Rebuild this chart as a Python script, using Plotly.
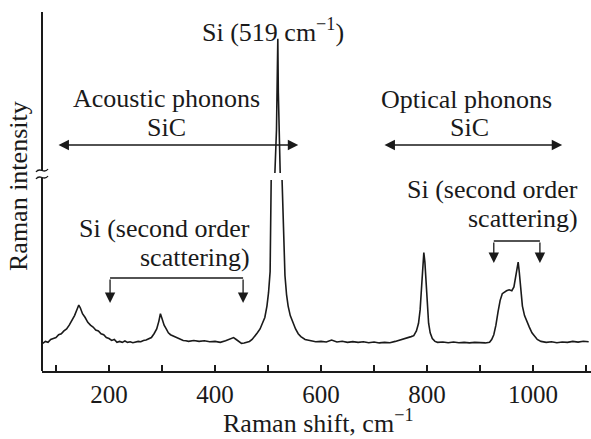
import plotly.graph_objects as go

# ---------------- data ----------------
shift = [75, 80, 85, 90, 95, 100, 105, 110, 115, 120, 125, 130, 135, 140, 143, 146,
         150, 155, 160, 165, 170, 175, 180, 185, 190, 195, 200, 205, 210, 215, 220,
         225, 230, 235, 240, 245, 250, 255, 260, 265, 270, 275, 280, 285, 290, 294,
         297, 300, 304, 308, 312, 316, 320, 325, 330, 335, 340, 345, 350, 360, 370,
         380, 390, 400, 410, 420, 430, 435, 440, 445, 450, 455, 460, 465, 470, 475,
         480, 485, 490, 494, 498, 501, 504, 507, 510, 513, 516, 517.5, 518.5, 519.5,
         521, 523, 526, 529, 532, 535, 538, 542, 547, 552, 557, 562, 570, 580, 590,
         600, 610, 620, 625, 630, 640, 650, 660, 670, 680, 690, 700, 710, 720, 730,
         740, 750, 760, 765, 770, 775, 780, 784, 787, 790, 792, 794, 796, 798, 800,
         803, 806, 810, 815, 820, 830, 840, 850, 860, 870, 880, 890, 900, 910, 918,
         922, 926, 930, 934, 938, 942, 946, 950, 955, 960, 964, 967, 970, 972, 974,
         977, 980, 984, 988, 993, 998, 1003, 1008, 1015, 1025, 1035, 1045, 1055,
         1065, 1075, 1085, 1095, 1105]
intensity = [14.5, 15.5, 15, 16.5, 17, 17.5, 19, 19.5, 21, 22, 24, 26.5, 29, 32.5, 34.5, 33,
             30, 28, 25.5, 24, 23, 21.5, 21, 19.5, 19, 17.5, 17, 16, 16.5, 15, 15.5,
             15, 15.7, 15, 15.3, 14.8, 15.2, 15.5, 15.3, 16, 16.2, 17, 17.5, 19.5, 22, 26,
             30, 27.5, 24, 22, 20, 19, 18.5, 17.5, 17, 16.2, 16, 15.8, 15.5, 16, 15.5,
             15.8, 15.3, 15.5, 15, 15.8, 17, 17.5, 16.5, 15.5, 14.5, 14.7, 15, 15.5, 16.5, 18,
             20, 22, 25, 28, 34, 41, 52, 72, 105, 150, 230, 300, 400, 300,
             230, 150, 105, 70, 50, 40, 34, 29, 25, 22, 19.5, 18, 16.5, 15.8, 15.3,
             15.5, 15.2, 16.2, 15.5, 15.2, 15.6, 15, 15.4, 15, 15.3, 14.8, 15.2, 14.7, 15, 14.8,
             15.5, 16.2, 17, 17.5, 18, 18.5, 21, 25, 32, 45, 57, 62, 57, 47, 35,
             25, 20, 17, 15.5, 15, 15.2, 14.8, 15.2, 14.8, 15, 14.7, 15, 14.8, 14.7, 15,
             16.5, 19, 24, 31, 37, 40.5, 41.5, 42, 42.5, 42, 44, 49, 55, 57, 52,
             42, 34, 29, 26, 23, 20, 18, 16.5, 15.5, 15, 15.3, 14.8, 15.2,
             15, 15.5, 15.1, 15.6, 15.3]

tick_vals = [200, 400, 600, 800, 1000]
tick_text = ["200", "400", "600", "800", "1000"]
minor_vals = [100, 300, 500, 700, 900, 1100]

x_range = [73.6, 1109.4]
lower_range = [0, 100]      # intensity below the axis break
upper_range = [150, 450]    # intensity above the axis break

# ---------------- layout helpers ----------------
W, H = 591, 439
ML, MR, MT, MB = 42, 0, 12, 68
PW, PH = W - ML - MR, H - MT - MB
INK = "#1a1a1a"
FONT = "Liberation Serif"


def xp(px):
    return (px - ML) / PW


def yp(py):
    return (H - MB - py) / PH


fig = go.Figure()
for ya in ("y", "y2"):
    fig.add_trace(go.Scatter(x=shift, y=intensity, mode="lines",
                             line=dict(color=INK, width=1.6),
                             xaxis="x", yaxis=ya, showlegend=False,
                             hoverinfo="skip"))

fig.update_layout(
    width=W, height=H,
    margin=dict(l=ML, r=MR, t=MT, b=MB, pad=0),
    paper_bgcolor="white", plot_bgcolor="white",
    font=dict(family=FONT, size=26, color=INK),
    xaxis=dict(range=x_range, domain=[0, 1], anchor="y",
               showline=True, linecolor=INK, linewidth=2,
               ticks="inside", ticklen=6, tickwidth=1.5, tickcolor=INK,
               tickvals=tick_vals, ticktext=tick_text,
               tickfont=dict(family=FONT, size=25, color=INK),
               minor=dict(tickvals=minor_vals, ticks="inside", ticklen=6,
                          tickwidth=1.5, tickcolor=INK),
               showgrid=False, zeroline=False),
    yaxis=dict(domain=[0, yp(180)], range=lower_range, visible=False,
               anchor="x"),
    yaxis2=dict(domain=[yp(173), 1], range=upper_range, visible=False,
                anchor="x"),
)

shapes = []
# y axis line
shapes.append(dict(type="line", xref="paper", yref="paper", x0=0, x1=0,
                   y0=0, y1=1, line=dict(color=INK, width=2)))
# axis break mark
shapes.append(dict(type="rect", xref="paper", yref="paper",
                   x0=xp(38), x1=xp(46), y0=yp(178), y1=yp(171),
                   fillcolor="white", line=dict(width=0)))


def P(px, py):
    return f"{xp(px):.5f},{yp(py):.5f}"


for off in (0, 7):
    path = (f"M{P(36, 172 + off)} C{P(40, 166 + off)} {P(44, 175 + off)} "
            f"{P(48, 169 + off)}")
    shapes.append(dict(type="path", xref="paper", yref="paper", path=path,
                       line=dict(color=INK, width=1.3)))

# brackets (second order scattering)
for x0, x1, ytop, ybot in ((202, 453, 278, 303), (926, 1013, 241, 263)):
    shapes.append(dict(type="line", xref="x", yref="paper", x0=x0, x1=x1,
                       y0=yp(ytop), y1=yp(ytop), line=dict(color=INK, width=1.4)))
fig.update_layout(shapes=shapes)

ann = []


def text(t, px, py, anchor="center", size=26):
    ann.append(dict(text=t, xref="paper", yref="paper", x=xp(px), y=yp(py),
                    xanchor=anchor, yanchor="middle", showarrow=False,
                    font=dict(family=FONT, size=size, color=INK)))


text("Si (519 cm<sup>−1</sup>)", 273, 30)
text("Acoustic phonons", 166, 98)
text("SiC", 166, 127)
text("Optical phonons", 466, 100)
text("SiC", 469, 127)
text("Si (second order", 580, 190, "right")
text("scattering)", 580, 219, "right")
text("Si (second order", 252, 228, "right")
text("scattering)", 252, 257, "right")
text("Raman shift, cm<sup>−1</sup>", 318, 421)
ann.append(dict(text="Raman intensity", xref="paper", yref="paper",
                x=xp(18), y=yp(186), textangle=-90, showarrow=False,
                xanchor="center", yanchor="middle",
                font=dict(family=FONT, size=26, color=INK)))

# double arrows (phonon ranges)
for x0, x1 in ((102, 557), (717, 1055)):
    ann.append(dict(text="", xref="x", yref="paper", x=x1, y=yp(145),
                    axref="x", ax=x0, ayref="pixel", ay=0,
                    showarrow=True, arrowhead=2, arrowside="end+start",
                    arrowsize=1.6, arrowwidth=1.3, arrowcolor=INK))
# down arrows of brackets
for xv, ytop, ybot in ((202, 278, 303), (453, 278, 303), (926, 241, 263), (1013, 241, 263)):
    ann.append(dict(text="", xref="x", yref="paper", x=xv, y=yp(ybot),
                    ax=0, ay=-(ybot - ytop), showarrow=True, arrowhead=2,
                    arrowsize=1.6, arrowwidth=1.3, arrowcolor=INK))
fig.update_layout(annotations=ann)

fig.write_html("out.html")
